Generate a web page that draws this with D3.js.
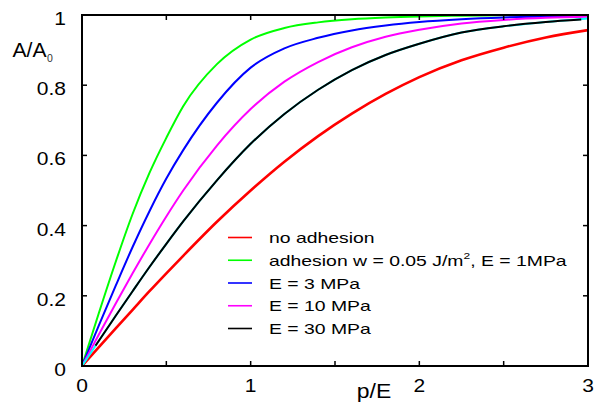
<!DOCTYPE html>
<html>
<head>
<meta charset="utf-8">
<script src="https://cdn.jsdelivr.net/npm/d3@7"></script>
<style>
  html, body { margin: 0; padding: 0; background: #fff; }
  svg { display: block; font-family: "Liberation Sans", Arial, sans-serif; }
</style>
</head>
<body>
<svg id="chart" width="596" height="405"></svg>
<script>
// values
const pGrid = [0, 0.1, 0.2, 0.3, 0.4, 0.5, 0.6, 0.8, 1.0, 1.2, 1.4, 1.6, 1.8, 2.0, 2.25, 2.5, 2.75, 3.0];
const noAdhesion = [0, 0.054, 0.107, 0.160, 0.213, 0.264, 0.314, 0.411, 0.500, 0.582, 0.655, 0.719, 0.775, 0.823, 0.871, 0.907, 0.936, 0.957];
const adhesion1 = [0, 0.151, 0.297, 0.433, 0.550, 0.650, 0.740, 0.860, 0.930, 0.963, 0.979, 0.988, 0.993, 0.996, 0.998, 0.999, 1.0, 1.0];
const adhesion3 = [0, 0.116, 0.229, 0.339, 0.441, 0.534, 0.615, 0.750, 0.850, 0.905, 0.935, 0.956, 0.970, 0.980, 0.988, 0.993, 0.996, 0.998];
const adhesion10 = [0, 0.090, 0.178, 0.264, 0.347, 0.426, 0.500, 0.628, 0.732, 0.810, 0.866, 0.908, 0.938, 0.958, 0.976, 0.986, 0.992, 0.995];
const hidden = [0, 0.072, 0.143, 0.213, 0.282, 0.348, 0.412, 0.529, 0.633, 0.718, 0.787, 0.843, 0.886, 0.918, 0.950, 0.968, 0.980, 0.990];
const pBlack = [0.08, 0.1, 0.2, 0.3, 0.4, 0.5, 0.6, 0.8, 1.0, 1.2, 1.4, 1.6, 1.8, 2.0, 2.25, 2.5, 2.75, 2.96];
const adhesion30 = [0.058, 0.072, 0.143, 0.213, 0.282, 0.348, 0.412, 0.529, 0.633, 0.718, 0.787, 0.843, 0.886, 0.918, 0.950, 0.968, 0.980, 0.987];

const xTicks = [0, 0.5, 1, 1.5, 2, 2.5, 3];
const xLabels = [0, 1, 2, 3];
const yTicks = [0, 0.2, 0.4, 0.6, 0.8, 1];

const series = [
  { name: "no adhesion", color: "#ff0000", x: pGrid, y: noAdhesion, legend: true, w: 2.6 },
  { name: "adhesion", color: "#00ff00", x: pGrid, y: adhesion1, legend: true, w: 2 },
  { name: "E = 3 MPa", color: "#0000ff", x: pGrid, y: adhesion3, legend: true, w: 2 },
  { name: "E = 10 MPa", color: "#ff00ff", x: pGrid, y: adhesion10, legend: true, w: 2 },
  { name: "", color: "#00ffff", x: pGrid, y: hidden, legend: false, w: 2 },
  { name: "E = 30 MPa", color: "#000000", x: pBlack, y: adhesion30, legend: true, w: 2 }
];

const svg = d3.select("#chart");
const mLeft = 82, mRight = 588, mTop = 15, mBottom = 366;

const x = d3.scaleLinear().domain([0, 3]).range([mLeft, mRight]);
const y = d3.scaleLinear().domain([0, 1]).range([mBottom, mTop]);

// stretched text helper (the reference glyphs are wider than normal)
function label(g, tx, ty, txt, size, sx, anchor) {
  return g.append("text")
    .attr("transform", `translate(${tx},${ty}) scale(${sx},1)`)
    .attr("text-anchor", anchor || "middle")
    .attr("font-size", size)
    .attr("fill", "#000")
    .text(txt);
}

const line = d3.line()
  .x(d => x(d[0]))
  .y(d => y(d[1]))
  .curve(d3.curveMonotoneX);

svg.append("clipPath").attr("id", "clip")
  .append("rect").attr("x", mLeft).attr("y", mTop - 1).attr("width", mRight - mLeft).attr("height", mBottom - mTop + 1);

const plot = svg.append("g").attr("clip-path", "url(#clip)");
series.forEach(s => {
  plot.append("path")
    .datum(s.x.map((v, i) => [v, s.y[i]]))
    .attr("fill", "none")
    .attr("stroke", s.color)
    .attr("stroke-width", s.w)
    .attr("d", line);
});

// ticks, inward on all four sides
const tickLen = 5;
const ticks = svg.append("g").attr("stroke", "#000").attr("stroke-width", 1.5);
xTicks.forEach(t => {
  ticks.append("line").attr("x1", x(t)).attr("x2", x(t)).attr("y1", mBottom).attr("y2", mBottom - tickLen);
  ticks.append("line").attr("x1", x(t)).attr("x2", x(t)).attr("y1", mTop).attr("y2", mTop + tickLen);
});
yTicks.forEach(t => {
  ticks.append("line").attr("x1", mLeft).attr("x2", mLeft + tickLen).attr("y1", y(t)).attr("y2", y(t));
  ticks.append("line").attr("x1", mRight).attr("x2", mRight - tickLen).attr("y1", y(t)).attr("y2", y(t));
});

svg.append("rect")
  .attr("x", mLeft).attr("y", mTop)
  .attr("width", mRight - mLeft).attr("height", mBottom - mTop)
  .attr("fill", "none").attr("stroke", "#000").attr("stroke-width", 2);

const labels = svg.append("g");
xLabels.forEach(t => label(labels, x(t), 392, d3.format("")(t), 17.5, 1.2));
yTicks.forEach(t => label(labels, 66, y(t) + 10, d3.format("")(t), 17.5, 1.2, "end"));

label(labels, 374, 398, "p/E", 20.5, 1.12);
label(labels, 12.5, 57, "A/A", 20.5, 1.03, "start");
labels.append("text")
  .attr("x", 47).attr("y", 62)
  .attr("font-size", 10.5).attr("fill", "#333")
  .text("0");

// legend
const legend = svg.append("g");
const legendItems = series.filter(s => s.legend);
const rowY = d3.scaleLinear().domain([0, 4]).range([237.5, 328.5]);
legendItems.forEach((s, i) => {
  legend.append("line")
    .attr("x1", 228).attr("x2", 252)
    .attr("y1", rowY(i)).attr("y2", rowY(i))
    .attr("stroke", s.color).attr("stroke-width", 1.6);
  const t = legend.append("text")
    .attr("transform", `translate(269,${rowY(i) + 5.5}) scale(1.26,1)`)
    .attr("font-size", 15.4)
    .attr("fill", "#000");
  if (s.name === "adhesion") {
    t.append("tspan").text("adhesion w = 0.05 J/m");
    t.append("tspan").attr("font-size", 9.5).attr("dy", -7).text("2");
    t.append("tspan").attr("dy", 7).text(", E = 1MPa");
  } else {
    t.text(s.name);
  }
});
</script>
</body>
</html>
